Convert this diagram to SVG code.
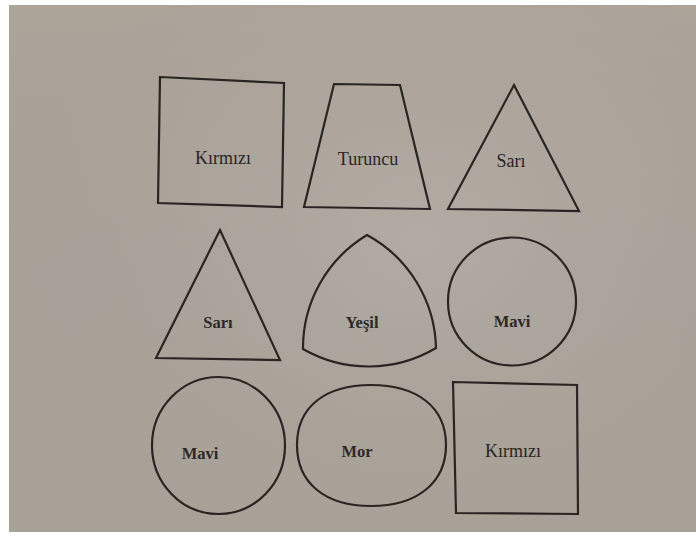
<svg xmlns="http://www.w3.org/2000/svg" width="696" height="544" viewBox="0 0 696 544">
  <defs>
    <linearGradient id="page" x1="0" y1="0" x2="0" y2="1">
      <stop offset="0" stop-color="#b1a89e"/>
      <stop offset="0.5" stop-color="#aca69d"/>
      <stop offset="1" stop-color="#ada69c"/>
    </linearGradient>
    <radialGradient id="light" cx="0.6" cy="0.45" r="0.6">
      <stop offset="0" stop-color="#ffffff" stop-opacity="0.06"/>
      <stop offset="1" stop-color="#000000" stop-opacity="0.03"/>
    </radialGradient>
  </defs>
  <style>
    .shape { fill: none; stroke: #2a2522; stroke-width: 2.2; stroke-linejoin: miter; }
    .lbl { font-family: "Liberation Serif", "Times New Roman", serif; font-size: 18px; fill: #2a2522; text-anchor: middle; }
    .bold { font-weight: bold; font-size: 16.5px; fill: #2e2926; }
  </style>
  <rect x="0" y="0" width="696" height="544" fill="#ffffff"/>
  <rect x="9" y="5" width="687" height="527" fill="url(#page)"/>
  <rect x="9" y="5" width="687" height="527" fill="url(#light)"/>

  <g id="kirmizi-1">
    <polygon class="shape" points="160,77 284,83 282,207 158,203"/>
    <text class="lbl" x="223" y="164">Kırmızı</text>
  </g>
  <g id="turuncu">
    <polygon class="shape" points="334,84 400,85 430,209 304,207"/>
    <text class="lbl" x="368" y="165">Turuncu</text>
  </g>
  <g id="sari-1">
    <polygon class="shape" points="514,85 579,211 448,209"/>
    <text class="lbl" x="511" y="167">Sarı</text>
  </g>

  <g id="sari-2">
    <polygon class="shape" points="220,230 280,360 156,358"/>
    <text class="lbl bold" x="218" y="328">Sarı</text>
  </g>
  <g id="yesil">
    <path class="shape" d="M303,349 A132,132 0 0 0 436,348 A132,132 0 0 0 367,235 A132,132 0 0 0 303,349 Z"/>
    <text class="lbl bold" x="362" y="328">Yeşil</text>
  </g>
  <g id="mavi-1">
    <circle class="shape" cx="512" cy="301.5" r="64"/>
    <text class="lbl bold" x="512" y="327">Mavi</text>
  </g>

  <g id="mavi-2">
    <ellipse class="shape" cx="218.5" cy="445.5" rx="66.5" ry="68.5"/>
    <text class="lbl bold" x="200" y="459">Mavi</text>
  </g>
  <g id="mor">
    <path class="shape" d="M297,445 C297,407 325,385 371,385 C417,385 446,407 446,445 C446,483 417,506 371,506 C325,506 297,483 297,445 Z"/>
    <text class="lbl bold" x="357" y="457">Mor</text>
  </g>
  <g id="kirmizi-2">
    <polygon class="shape" points="453,382 577,385 578,514 456,513"/>
    <text class="lbl" x="513" y="457">Kırmızı</text>
  </g>
</svg>
